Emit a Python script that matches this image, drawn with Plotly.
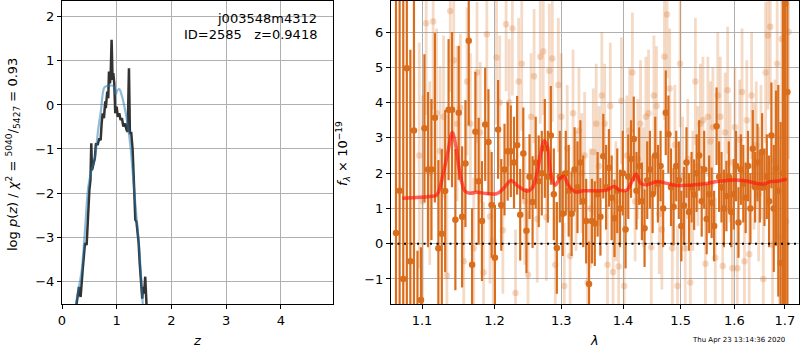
import math
import plotly.graph_objects as go

# ---------------- left panel: log p(z) ----------------
pz_dark_z = [0.20, 0.268, 0.31, 0.34, 0.377, 0.42, 0.45, 0.46, 0.50, 0.52, 0.535, 0.547, 0.57, 0.60,
             0.62, 0.65, 0.68, 0.706, 0.724, 0.742, 0.766, 0.79, 0.80, 0.827, 0.845, 0.858, 0.876,
             0.888, 0.906, 0.924, 0.937, 0.955, 0.973, 0.998, 1.02, 1.046, 1.07, 1.095, 1.12, 1.15,
             1.18, 1.20, 1.223, 1.24, 1.265, 1.29, 1.314, 1.34, 1.36, 1.40, 1.42, 1.45, 1.466, 1.48,
             1.50, 1.52, 1.545, 1.58]
pz_dark_logp = [-5.5, -4.5, -4.13, -4.36, -3.75, -3.14, -3.18, -2.84, -1.93, -1.70, -0.87, -1.48, -1.33,
                -1.21, -0.87, -0.91, -0.76, -0.80, -0.42, -0.19, -0.30, 0.08, -0.07, 0.30, 0.15, 0.76,
                0.49, 0.64, 1.48, 0.57, 0.72, 0.49, -0.19, -0.04, -0.27, -0.19, -0.34, -0.30, -0.49,
                -0.42, -0.57, -0.61, 0.83, -0.64, -0.64, -1.02, -1.78, -2.61, -2.65, -3.14, -3.60,
                -4.28, -4.40, -4.13, -4.28, -3.90, -4.60, -5.5]

pz_smooth_z = [0.20, 0.26, 0.36, 0.42, 0.48, 0.54, 0.60, 0.66, 0.71, 0.77, 0.815, 0.876, 0.937, 0.98,
               1.01, 1.046, 1.095, 1.14, 1.18, 1.23, 1.27, 1.314, 1.36, 1.405, 1.436, 1.466, 1.50]
pz_smooth_logp = [-5.3, -4.5, -3.75, -2.84, -1.86, -1.48, -1.20, -0.57, -0.14, 0.39, 0.43, 0.44, 0.43,
                  0.24, 0.33, 0.36, 0.20, -0.04, -0.30, -0.72, -1.20, -1.86, -2.54, -3.14, -3.75,
                  -4.35, -5.0]

# ---------------- right panel: spectrum ----------------
dark_wave = [10662, 10708, 10755, 10801, 10847, 10894, 10940, 10986, 11032, 11079, 11125, 11171,
             11218, 11264, 11310, 11356, 11403, 11449, 11495, 11542, 11588, 11634, 11681, 11727,
             11773, 11820, 11866, 11912, 11958, 12005, 12051, 12097, 12144, 12190, 12236, 12283,
             12329, 12375, 12421, 12468, 12514, 12560, 12607, 12653, 12699, 12746, 12792, 12838,
             12884, 12931, 12977, 13023, 13070, 13116, 13162, 13209, 13255, 13301, 13347, 13394,
             13440, 13486, 13533, 13579, 13625, 13672, 13718, 13764, 13810, 13857, 13903, 13949,
             13996, 14042, 14088, 14135, 14181, 14227, 14273, 14320, 14366, 14412, 14459, 14505,
             14551, 14598, 14644, 14690, 14736, 14783, 14829, 14875, 14922, 14968, 15014, 15061,
             15107, 15153, 15199, 15246, 15292, 15338, 15385, 15431, 15477, 15524, 15570, 15616,
             15662, 15709, 15755, 15801, 15848, 15894, 15940, 15987, 16033, 16079, 16125, 16172,
             16218, 16264, 16311, 16357, 16403, 16450, 16496, 16542, 16588, 16635, 16681, 16727,
             16774, 16820, 16866, 16913, 16959, 17005, 17051]
dark_flux = [0.30, 1.5, -1.0, 4.97, -0.5, 3.21, -2.0, -1.6, 3.27, 2.1, 2.1, 3.57,
             -0.13, 0.28, 1.49, 3.8, 3.8, 0.68, 3.71, 0.76, 2.27, 5.75, -0.6, 3.17,
             1.77, 0.64, 3.38, 2.88, 1.1, -0.4, 3.24, 1.1, 2.1, 2.62, 2.62, 2.3,
             2.79, 0.82, 2.56, 0.37, 1.9, 1.18, 2.3, 1.77, 2.0, 2.7, 1.9, 3.07,
             1.4, -0.12, 1.9, 0.85, 2.0, 1.5, 0.85, 2.1, 1.6, 2.3, 1.2, 0.64,
             -1.14, 0.64, 0.57, 1.4, 0.76, 2.48, 1.6, 2.15, 1.3, 0.72, 1.5, 1.0,
             2.0, 0.4, 1.9, 2.4, 2.97, 1.5, 2.2, 1.2, 0.44, 1.8, 2.1, 1.4,
             2.5, 1.7, 2.2, 1.0, 3.71, 3.1, 1.6, 1.05, 2.2, 1.8, 0.5, 1.08,
             2.3, 0.9, 1.6, 1.39, 2.0, 2.5, 1.2, 2.1, 0.7, 1.4, 1.16, 0.5,
             3.33, 1.9, 1.6, 1.0, 1.35, 1.9, 0.9, 1.4, 2.2, 0.6, 2.1, 1.7,
             1.3, 2.2, 1.0, 2.69, 1.6, 2.3, 1.6, 2.6, 1.6, 1.9, 1.2, 3.07,
             1.0, 2.14, 1.5, -0.55, 2.0, 6.8, 4.3]
dark_err = [10.0, 8.0, 8.0, 8.0, 6.0, 5.0, 1.8, 1.5, 2.1, 2.2, 2.0, 2.4,
            2.5, 2.4, 2.3, 2.0, 2.2, 2.0, 1.9, 2.0, 1.8, 2.4, 1.6, 1.7,
            1.8, 1.7, 1.6, 1.5, 1.5, 1.5, 1.4, 1.3, 1.3, 1.4, 1.3, 1.3,
            1.4, 1.3, 1.3, 1.2, 1.2, 1.3, 1.3, 1.3, 1.2, 1.4, 1.3, 1.4,
            1.3, 1.3, 1.3, 1.2, 1.2, 1.3, 1.2, 1.2, 1.3, 1.2, 1.3, 1.2,
            1.2, 1.2, 1.2, 1.2, 1.1, 1.2, 1.2, 1.1, 1.2, 1.1, 1.2, 1.1,
            1.2, 1.1, 1.2, 1.1, 1.2, 1.1, 1.1, 1.1, 1.1, 1.1, 1.1, 1.1,
            1.1, 1.1, 1.0, 1.1, 1.2, 1.1, 1.1, 1.1, 1.0, 1.1, 1.0, 1.1,
            1.0, 1.1, 1.0, 1.0, 1.1, 1.0, 1.0, 1.1, 1.0, 1.1, 1.0, 1.0,
            1.1, 1.0, 1.0, 1.1, 1.0, 1.0, 1.0, 1.0, 1.0, 1.0, 1.0, 1.1,
            1.0, 1.0, 1.0, 1.1, 1.0, 1.1, 1.0, 1.1, 1.1, 1.2, 1.3, 1.5,
            1.8, 2.2, 3.0, 4.0, 8.0, 10.0, 10.0]

light_wave = [10963, 11009, 11055, 11102, 11148, 11194, 11241, 11287, 11333, 11379, 11426, 11472,
              11518, 11565, 11611, 11657, 11704, 11750, 11796, 11843, 11889, 11935, 11981, 12028,
              12074, 12120, 12167, 12213, 12259, 12306, 12352, 12398, 12444, 12491, 12537, 12583,
              12630, 12676, 12722, 12769, 12815, 12861, 12907, 12954, 13000, 13046, 13093, 13139,
              13185, 13232, 13278, 13324, 13370, 13417, 13463, 13509, 13556, 13602, 13648, 13695,
              13741, 13787, 13833, 13880, 13926, 13972, 14019, 14065, 14111, 14158, 14204, 14250,
              14296, 14343, 14389, 14435, 14482, 14528, 14574, 14621, 14667, 14713, 14759, 14806,
              14852, 14898, 14945, 14991, 15037, 15084, 15130, 15176, 15222, 15269, 15315, 15361,
              15408, 15454, 15500, 15547, 15593, 15639, 15685, 15732, 15778, 15824, 15871, 15917,
              15963, 16010, 16056, 16102, 16148, 16195, 16241, 16287, 16334, 16380, 16426, 16473,
              16519, 16565, 16611, 16658, 16704, 16750, 16797, 16843, 16889, 16936, 16982, 17028,
              17074]
light_flux = [2.5, 1.2, 6.25, 2.0, 6.3, 3.7, 2.63, 3.6, -0.9, 6.6, 5.2, 3.4,
              3.85, -0.5, 4.6, 3.4, -0.13, 4.85, 3.15, -0.82, 5.94, 0.77, 0.09, 5.28,
              4.0, 0.38, 6.22, 4.0, 6.1, -1.4, 4.6, 5.1, 1.2, -0.88, 3.6, 4.75,
              0.7, 5.3, 5.45, 0.75, 4.9, 5.25, -0.6, 4.5, 3.6, -1.2, 2.7, -0.35,
              3.7, 1.5, 3.2, 2.0, 2.5, -1.1, 1.0, 2.6, 3.4, 2.2, 4.2, 3.4,
              -0.6, 3.9, -0.8, 1.2, -0.65, 4.05, -1.2, 2.5, 3.2, 4.85, 1.2, 2.4,
              3.4, 1.6, 3.6, 3.7, -0.1, 4.2, 3.9, 0.84, 0.4, 5.3, 6.5, 4.4,
              -0.13, 2.8, -1.2, 5.1, 1.9, -0.13, 2.4, -1.1, 1.5, 4.6, 2.2, 3.4,
              3.5, -0.57, 3.6, 2.9, 3.3, -0.4, 4.2, 3.6, -0.63, 3.15, 4.35, 2.3,
              -0.7, 3.3, -0.7, 2.95, 4.3, -0.5, 3.5, -0.3, 4.2, 2.2, 2.8, 1.4,
              2.6, -1.0, 4.85, 5.9, 6.15, -0.03, 2.35, 5.1, 0.2, 5.8, 3.0, 0.62,
              6.0]
light_err = [3.2, 3.0, 2.6, 2.6, 2.5, 2.4, 2.4, 2.3, 2.3, 2.3, 2.2, 2.2,
             2.1, 2.1, 2.1, 2.0, 2.0, 2.0, 2.0, 2.0, 1.9, 1.9, 1.9, 1.9,
             1.9, 1.8, 1.9, 1.8, 1.9, 1.8, 1.8, 1.9, 1.8, 1.8, 1.8, 1.9,
             1.8, 1.9, 1.8, 1.8, 1.9, 1.8, 1.8, 1.9, 1.8, 1.8, 1.8, 1.7,
             1.8, 1.7, 1.8, 1.7, 1.8, 1.7, 1.7, 1.8, 1.7, 1.7, 1.8, 1.7,
             1.7, 1.8, 1.7, 1.7, 1.7, 1.8, 1.7, 1.7, 1.8, 1.7, 1.7, 1.7,
             1.8, 1.7, 1.7, 1.8, 1.7, 1.7, 1.7, 1.7, 1.7, 1.8, 1.8, 1.7,
             1.7, 1.7, 1.7, 1.8, 1.7, 1.7, 1.7, 1.7, 1.7, 1.8, 1.7, 1.7,
             1.8, 1.7, 1.7, 1.7, 1.7, 1.7, 1.8, 1.7, 1.7, 1.7, 1.8, 1.7,
             1.7, 1.7, 1.7, 1.7, 1.8, 1.7, 1.7, 1.7, 1.8, 1.8, 1.8, 1.9,
             1.9, 2.0, 2.0, 2.1, 2.2, 2.2, 2.3, 2.4, 2.5, 2.7, 3.0, 3.3,
             3.6]

model_wave = [1.0743, 1.1106, 1.1195, 1.1284, 1.1352, 1.1406, 1.1456, 1.1512, 1.1582, 1.1651,
              1.1746, 1.1888, 1.2032, 1.2127, 1.2239, 1.2323, 1.2472, 1.2547, 1.2623, 1.2683,
              1.2733, 1.2784, 1.2836, 1.2903, 1.2981, 1.3043, 1.3111, 1.3217, 1.3349, 1.3566,
              1.3730, 1.3851, 1.3939, 1.4063, 1.4148, 1.4221, 1.4302, 1.4405, 1.4579, 1.4754,
              1.4932, 1.5173, 1.5417, 1.5667, 1.5919, 1.6176, 1.6438, 1.6568, 1.6702, 1.6869,
              1.7040]
model_flux = [1.29, 1.34, 1.38, 2.00, 2.66, 3.15, 2.76, 2.00, 1.49, 1.43,
              1.46, 1.42, 1.42, 1.56, 1.79, 1.66, 1.49, 1.56, 1.98, 2.55,
              2.92, 2.76, 2.00, 1.66, 1.85, 1.90, 1.66, 1.47, 1.50, 1.50,
              1.52, 1.62, 1.52, 1.52, 1.76, 1.97, 1.71, 1.67, 1.76, 1.71,
              1.65, 1.66, 1.69, 1.76, 1.80, 1.79, 1.71, 1.69, 1.76, 1.78,
              1.83]

z_ticks = [0, 1, 2, 3, 4]
logp_ticks = [-4, -3, -2, -1, 0, 1, 2]
lam_ticks = [1.1, 1.2, 1.3, 1.4, 1.5, 1.6, 1.7]
flux_ticks = [-1, 0, 1, 2, 3, 4, 5, 6]

DARK = "rgb(217,109,28)"
LIGHT = "rgba(217,109,28,0.25)"
GRID = "#b0b0b0"
FONT = "DejaVu Sans"

fig = go.Figure()

# left panel
fig.add_trace(go.Scatter(x=pz_dark_z, y=pz_dark_logp, mode="lines",
                         line=dict(color="#333333", width=2.5), xaxis="x", yaxis="y"))
fig.add_trace(go.Scatter(x=pz_smooth_z, y=pz_smooth_logp, mode="lines",
                         line=dict(color="rgba(31,119,180,0.5)", width=2.2, shape="spline"),
                         xaxis="x", yaxis="y"))

# right panel
fig.add_trace(go.Scatter(x=[w / 1e4 for w in light_wave], y=light_flux, mode="markers",
                         marker=dict(color=LIGHT, size=6.5),
                         error_y=dict(type="data", array=light_err, color=LIGHT, thickness=2.8, width=0),
                         xaxis="x2", yaxis="y2"))
fig.add_trace(go.Scatter(x=[w / 1e4 for w in dark_wave], y=dark_flux, mode="markers",
                         marker=dict(color=DARK, size=6.5),
                         error_y=dict(type="data", array=dark_err, color=DARK, thickness=2.2, width=0),
                         xaxis="x2", yaxis="y2"))
fig.add_trace(go.Scatter(x=model_wave, y=model_flux, mode="lines",
                         line=dict(color="rgba(255,20,10,0.65)", width=3.5, shape="spline"),
                         xaxis="x2", yaxis="y2"))

fig.add_shape(type="line", xref="x2 domain", x0=0, x1=1, yref="y2", y0=0, y1=0,
              line=dict(color="black", width=2, dash="2px,4.5px"))

axis_common = dict(showgrid=True, gridcolor=GRID, gridwidth=1, zeroline=False,
                   showline=True, linecolor="black", linewidth=1, mirror=True,
                   ticks="outside", ticklen=4, tickcolor="black",
                   tickfont=dict(family=FONT, size=13, color="black"))

fig.update_layout(
    width=800, height=350,
    margin=dict(l=0, r=0, t=0, b=0, autoexpand=False),
    paper_bgcolor="white", plot_bgcolor="white",
    showlegend=False,
    font=dict(family=FONT, size=13, color="black"),
    xaxis=dict(domain=[62 / 800, 333 / 800], range=[0, 4.95], tickvals=z_ticks, anchor="y",
               **axis_common),
    yaxis=dict(domain=[1 - 304 / 350, 1 - 1 / 350], range=[-4.52, 2.36], tickvals=logp_ticks,
               anchor="x", **axis_common),
    xaxis2=dict(domain=[391 / 800, 799 / 800], type="log",
                range=[math.log10(1.0598), math.log10(1.729)],
                tickvals=lam_ticks, ticktext=[f"{t:.1f}" for t in lam_ticks], anchor="y2",
                **axis_common),
    yaxis2=dict(domain=[1 - 304 / 350, 1 - 1 / 350], range=[-1.71, 6.88], tickvals=flux_ticks,
                anchor="x2", **axis_common),
)

ann = []
ann.append(dict(text="j003548m4312", x=319 / 800, y=1 - 19 / 350, xanchor="right", yanchor="middle"))
ann.append(dict(text="ID=2585   z=0.9418", x=319 / 800, y=1 - 34 / 350, xanchor="right", yanchor="middle"))
ann.append(dict(text="<i>z</i>", x=197 / 800, y=1 - 340 / 350, xanchor="center", yanchor="middle"))
ann.append(dict(text="<i>λ</i>", x=594 / 800, y=1 - 340 / 350, xanchor="center", yanchor="middle"))
ann.append(dict(text="log <i>p</i>(<i>z</i>) / <i>χ</i><sup>2</sup> = <sup>5040</sup>/<sub>5427</sub> = 0.93",
                x=13 / 800, y=1 - 155 / 350, xanchor="center", yanchor="middle", textangle=-90))
ann.append(dict(text="<i>f</i><sub><i>λ</i></sub> × 10<sup>−19</sup>",
                x=343 / 800, y=1 - 154 / 350, xanchor="center", yanchor="middle", textangle=-90))
ann.append(dict(text="Thu Apr 23 13:14:36 2020", x=787 / 800, y=1 - 340 / 350,
                xanchor="right", yanchor="middle", font=dict(family=FONT, size=7, color="black")))
for a in ann:
    a.update(xref="paper", yref="paper", showarrow=False)
    a.setdefault("font", dict(family=FONT, size=13, color="black"))
fig.update_layout(annotations=ann)

fig.write_html("out.html", config={"displayModeBar": False},
               post_script="document.body.style.margin='0px';document.body.style.padding='0px';")
